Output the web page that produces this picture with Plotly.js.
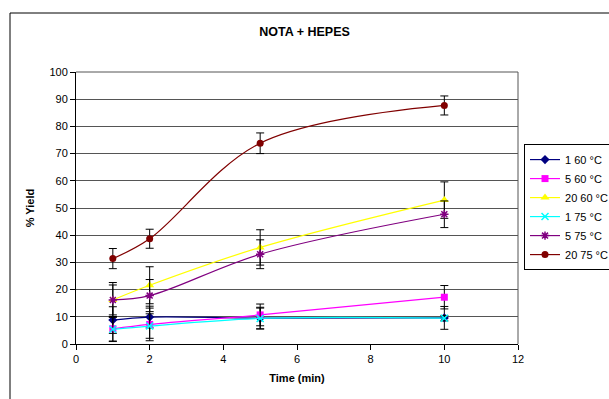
<!DOCTYPE html>
<html>
<head>
<meta charset="utf-8">
<script src="https://cdn.plot.ly/plotly-3.0.1.min.js"></script>
<style>html,body{margin:0;padding:0;background:#fff;}#chart{width:609px;height:399px;}</style>
</head>
<body>
<div id="chart"></div>
<script>
// Data
const timeMin = [1, 2, 5, 10];
const seriesNames = ["1 60 °C", "5 60 °C", "20 60 °C", "1 75 °C", "5 75 °C", "20 75 °C"];
const y_1_60  = [8.8, 9.9, 9.5, 9.6];
const y_5_60  = [5.6, 7.2, 10.7, 17.2];
const y_20_60 = [16.2, 21.6, 35.5, 52.9];
const y_1_75  = [5.4, 6.6, 9.4, 9.5];
const y_5_75  = [16.2, 17.8, 33.0, 47.7];
const y_20_75 = [31.4, 38.7, 73.8, 87.7];
const err_1_60  = [4.9, 4.0, 4.0, 4.2];
const err_5_60  = [4.5, 6.0, 4.0, 4.3];
const err_20_60 = [6.4, 6.8, 6.5, 6.7];
const err_1_75  = [4.5, 4.5, 3.8, 1.0];
const err_5_75  = [5.5, 5.9, 5.3, 4.9];
const err_20_75 = [3.7, 3.5, 3.8, 3.5];

const yVals = [y_1_60, y_5_60, y_20_60, y_1_75, y_5_75, y_20_75];
const errVals = [err_1_60, err_5_60, err_20_60, err_1_75, err_5_75, err_20_75];
const colors = ["#000080", "#FF00FF", "#FFFF00", "#00FFFF", "#800080", "#800000"];
const symbols = ["diamond", "square", "triangle-up", "x-thin-open", "asterisk-open", "circle"];
const sizes = [7, 7, 8, 7, 7, 7];

const traces = seriesNames.map((name, i) => ({
  type: "scatter",
  mode: "lines+markers",
  name: name,
  x: timeMin,
  y: yVals[i],
  line: {color: colors[i], width: 1.2, shape: "spline", smoothing: 1},
  marker: {symbol: symbols[i], size: sizes[i], color: colors[i],
           line: {color: colors[i], width: (symbols[i].indexOf("open") >= 0) ? 1.5 : 0}},
  error_y: {type: "data", array: errVals[i], visible: true, color: "#000", thickness: 1, width: 4}
}));

const layout = {
  width: 609, height: 399,
  margin: {l: 76, r: 91, t: 72, b: 55, autoexpand: false},
  paper_bgcolor: "#fff", plot_bgcolor: "#fff",
  font: {family: "Arial, 'Liberation Sans', sans-serif", size: 11, color: "#000"},
  title: {text: "<b>NOTA + HEPES</b>", x: 0.5, xref: "container", y: 1 - 32/399, yref: "container", yanchor: "middle",
          font: {size: 12.5, color: "#000"}},
  xaxis: {range: [0, 12], dtick: 2, tick0: 0, showgrid: false, zeroline: false,
          showline: true, linecolor: "#000", linewidth: 1, ticks: "outside", ticklen: 5, tickcolor: "#000",
          title: {text: "<b>Time (min)</b>", font: {size: 11}, standoff: 10}},
  yaxis: {range: [0, 100], dtick: 10, tick0: 0, showgrid: true, gridcolor: "#555", gridwidth: 1, zeroline: false,
          showline: true, linecolor: "#000", linewidth: 1, ticks: "outside", ticklen: 5, tickcolor: "#000",
          title: {text: "<b>% Yield</b>", font: {size: 11}, standoff: 12}},
  showlegend: true,
  legend: {x: 1.0136, y: 0.735, xanchor: "left", yanchor: "top", bgcolor: "#fff",
           bordercolor: "#000", borderwidth: 1, font: {size: 11}, tracegroupgap: 0, itemwidth: 30},
  shapes: [
    {type: "line", xref: "paper", yref: "paper", x0: 0, x1: 1, y0: 1, y1: 1, line: {color: "#555", width: 1}},
    {type: "line", xref: "paper", yref: "paper", x0: 1, x1: 1, y0: 0, y1: 1, line: {color: "#555", width: 1}},
    {type: "rect", xref: "paper", yref: "paper", x0: -0.1493, x1: 1.4, y0: -0.3, y1: 1.2169,
     line: {color: "#000", width: 1}, fillcolor: "rgba(0,0,0,0)", layer: "below"}
  ]
};

Plotly.newPlot("chart", traces, layout, {staticPlot: true, displayModeBar: false});
</script>
</body>
</html>
